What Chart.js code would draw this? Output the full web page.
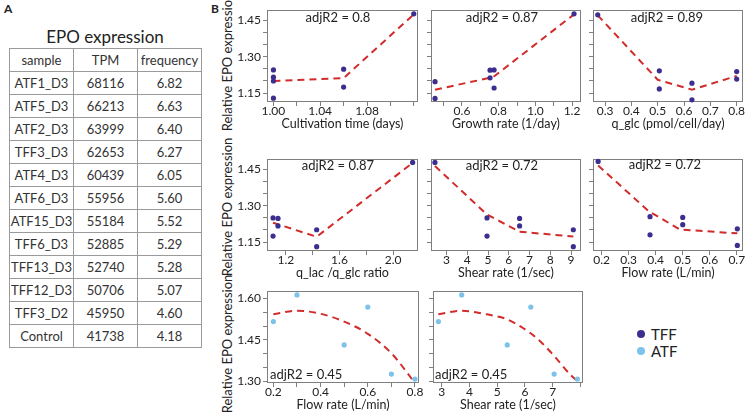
<!DOCTYPE html>
<html>
<head>
<meta charset="utf-8">
<script src="https://cdn.jsdelivr.net/npm/chart.js@4.4.1/dist/chart.umd.min.js"></script>
<style>
    html, body { margin: 0; padding: 0; background: #fff; }
    body { width: 747px; height: 413px; position: relative; overflow: hidden; font-family: Lato, "Noto Sans", sans-serif; color: #222; }
    .abs { position: absolute; white-space: nowrap; }
    .panel { font-weight: 700; font-size: 12px; line-height: 12px; }
    #epoTitle { left: 9px; width: 192px; top: 27px; text-align: center; font-size: 17px; line-height: 20px; }
    #epoTable { position: absolute; left: 9px; top: 48px; border-collapse: collapse; table-layout: fixed; width: 193px; }
    #epoTable td { width: 63px; height: 22px; border: 1px solid #9a9a9a; text-align: center; font-size: 13px; padding: 0; color: #333; }
    .ytitle { font-size: 13px; line-height: 14px; transform: translate(-50%, -50%) rotate(-90deg); }
    .note { font-size: 13px; line-height: 16px; }
    .center { transform: translate(-50%, -50%); }
    .dot { width: 8px; height: 8px; border-radius: 50%; }
    .legend { font-size: 15px; line-height: 16px; }
</style>
</head>
<body>
<div class="abs panel" style="left:4px;top:3px">A</div>
<div class="abs panel" style="left:211px;top:3px">B</div>
<div class="abs" id="epoTitle">EPO expression</div>
<table id="epoTable"></table>

<div class="abs ytitle" style="left:227px;top:62px">Relative EPO expression</div>
<div class="abs ytitle" style="left:227px;top:207px">Relative EPO expression</div>
<div class="abs ytitle" style="left:227px;top:344px">Relative EPO expression</div>

<div class="abs dot" style="left:637px;top:330px;background:#3b2e8e"></div>
<div class="abs legend" style="left:651px;top:326px">TFF</div>
<div class="abs dot" style="left:637px;top:347px;background:#7dc2ea"></div>
<div class="abs legend" style="left:651px;top:343px">ATF</div>

<script>
// --- Panel A: EPO expression table ---
const tableHeader = ['sample', 'TPM', 'frequency'];
const tableSamples = ['ATF1_D3', 'ATF5_D3', 'ATF2_D3', 'TFF3_D3', 'ATF4_D3', 'ATF6_D3', 'ATF15_D3', 'TFF6_D3', 'TFF13_D3', 'TFF12_D3', 'TFF3_D2', 'Control'];
const tableTPM = [68116, 66213, 63999, 62653, 60439, 55956, 55184, 52885, 52740, 50706, 45950, 41738];
const tableFreq = ['6.82', '6.63', '6.40', '6.27', '6.05', '5.60', '5.52', '5.29', '5.28', '5.07', '4.60', '4.18'];

// --- Panel B: TFF samples ---
const cultTime = [1.00, 1.00, 1.00, 1.00, 1.06, 1.06, 1.12];
const cultEPO = [1.246, 1.216, 1.200, 1.129, 1.249, 1.175, 1.478];
const cultFitX = [1.00, 1.06, 1.12];
const cultFitY = [1.200, 1.212, 1.476];

const growthRate = [0.453, 0.453, 0.753, 0.775, 0.753, 0.775, 1.211];
const growthEPO = [1.197, 1.128, 1.245, 1.246, 1.213, 1.171, 1.478];
const growthFitX = [0.453, 0.77, 1.211];
const growthFitY = [1.164, 1.216, 1.476];

const qGlc = [0.272, 0.506, 0.506, 0.63, 0.63, 0.80, 0.80];
const qGlcEPO = [1.474, 1.242, 1.167, 1.191, 1.122, 1.239, 1.208];
const qGlcFitX = [0.272, 0.50, 0.63, 0.80];
const qGlcFitY = [1.472, 1.205, 1.164, 1.221];

const lacGlcRatio = [1.105, 1.105, 1.142, 1.142, 1.43, 1.43, 2.145];
const lacGlcEPO = [1.250, 1.175, 1.248, 1.217, 1.201, 1.131, 1.480];
const lacGlcFitX = [1.105, 1.43, 2.145];
const lacGlcFitY = [1.230, 1.172, 1.478];

const shearTFF = [2.44, 4.95, 4.95, 6.52, 6.52, 9.11, 9.11];
const shearTFFEPO = [1.480, 1.250, 1.175, 1.248, 1.217, 1.201, 1.131];
const shearTFFFitX = [2.44, 4.95, 6.52, 9.11];
const shearTFFFitY = [1.465, 1.264, 1.193, 1.173];

const flowTFF = [0.187, 0.379, 0.379, 0.50, 0.50, 0.702, 0.702];
const flowTFFEPO = [1.484, 1.255, 1.180, 1.252, 1.222, 1.205, 1.136];
const flowTFFFitX = [0.187, 0.375, 0.49, 0.702];
const flowTFFFitY = [1.467, 1.277, 1.202, 1.186];

// --- Panel B: ATF samples ---
const flowATF = [0.2, 0.3, 0.5, 0.6, 0.7, 0.8];
const shearATF = [2.88, 3.72, 5.36, 6.21, 7.05, 7.89];
const epoATF = [1.516, 1.612, 1.432, 1.568, 1.327, 1.309];
const flowATFFitX = [0.2, 0.3, 0.4, 0.5, 0.6, 0.7, 0.8];
const flowATFFitY = [1.542, 1.555, 1.544, 1.516, 1.472, 1.402, 1.295];
const shearATFFitX = [2.88, 3.72, 4.62, 5.34, 5.94, 6.43, 7.02, 7.63, 7.89];
const shearATFFitY = [1.542, 1.555, 1.542, 1.525, 1.492, 1.456, 1.396, 1.325, 1.302];

// tick labels
const yLabelsTop = ['1.15', '1.30', '1.45'];
const yLabelsATF = ['1.30', '1.45', '1.60'];
const cultTicks = ['1.00', '1.04', '1.08'];
const growthTicks = ['0.6', '0.8', '1.0', '1.2'];
const qGlcTicks = ['0.3', '0.4', '0.5', '0.6', '0.7', '0.8'];
const ratioTicks = ['1.2', '1.6', '2.0'];
const shearTFFTicks = ['3', '4', '5', '6', '7', '8', '9'];
const flowTFFTicks = ['0.2', '0.3', '0.4', '0.5', '0.6', '0.7'];
const flowATFTicks = ['0.2', '0.4', '0.6', '0.8'];
const shearATFTicks = ['3', '4', '5', '6', '7'];

const TFF_COLOR = '#3b2e8e';
const ATF_COLOR = '#7dc2ea';
const FIT_COLOR = '#d22b2b';
const FRAME_COLOR = '#7f7f7f';
const FONT = 'Lato, "Noto Sans", sans-serif';

// build table
const tbl = document.getElementById('epoTable');
const headRow = tbl.insertRow();
tableHeader.forEach(h => { headRow.insertCell().textContent = h; });
tableSamples.forEach((s, i) => {
    const tr = tbl.insertRow();
    tr.insertCell().textContent = s;
    tr.insertCell().textContent = tableTPM[i];
    tr.insertCell().textContent = tableFreq[i];
});

// draws the grey box around every plot area
const frameBox = {
    id: 'frameBox',
    beforeDatasetsDraw(chart) {
        const { ctx, chartArea: a } = chart;
        ctx.save();
        ctx.strokeStyle = FRAME_COLOR;
        ctx.lineWidth = 1;
        ctx.strokeRect(Math.round(a.left) + 0.5, Math.round(a.top) + 0.5, Math.round(a.right - a.left) - 1, Math.round(a.bottom - a.top) - 1);
        ctx.restore();
    }
};

const plots = [
    { box: [267, 10, 418, 102], xs: cultTime, ys: cultEPO, fx: cultFitX, fy: cultFitY, color: TFF_COLOR,
      xMin: 0.9945, xMax: 1.1236, xStep: 0.02, xDec: 2, xLabels: cultTicks, xTitle: 'Cultivation time (days)',
      yMin: 1.113, yMax: 1.494, yLabels: yLabelsTop, note: 'adjR2 = 0.8', noteX: 338, noteY: 17 },
    { box: [431, 10, 581, 102], xs: growthRate, ys: growthEPO, fx: growthFitX, fy: growthFitY, color: TFF_COLOR,
      xMin: 0.431, xMax: 1.249, xStep: 0.1, xDec: 1, xLabels: growthTicks, xTitle: 'Growth rate (1/day)',
      yMin: 1.113, yMax: 1.494, yLabels: [], note: 'adjR2 = 0.87', noteX: 502, noteY: 17 },
    { box: [593, 10, 743, 102], xs: qGlc, ys: qGlcEPO, fx: qGlcFitX, fy: qGlcFitY, color: TFF_COLOR,
      xMin: 0.254, xMax: 0.824, xStep: 0.1, xDec: 1, xLabels: qGlcTicks, xTitle: 'q_glc (pmol/cell/day)',
      yMin: 1.113, yMax: 1.494, yLabels: [], note: 'adjR2 = 0.89', noteX: 667, noteY: 17 },
    { box: [267, 159, 418, 251], xs: lacGlcRatio, ys: lacGlcEPO, fx: lacGlcFitX, fy: lacGlcFitY, color: TFF_COLOR,
      xMin: 1.06, xMax: 2.185, xStep: 0.2, xDec: 1, xLabels: ratioTicks, xTitle: 'q_lac /q_glc ratio',
      yMin: 1.113, yMax: 1.494, yLabels: yLabelsTop, note: 'adjR2 = 0.87', noteX: 338, noteY: 165 },
    { box: [431, 159, 581, 251], xs: shearTFF, ys: shearTFFEPO, fx: shearTFFFitX, fy: shearTFFFitY, color: TFF_COLOR,
      xMin: 2.25, xMax: 9.48, xStep: 1, xDec: 0, xLabels: shearTFFTicks, xTitle: 'Shear rate (1/sec)',
      yMin: 1.113, yMax: 1.494, yLabels: [], note: 'adjR2 = 0.72', noteX: 502, noteY: 165 },
    { box: [593, 159, 743, 251], xs: flowTFF, ys: flowTFFEPO, fx: flowTFFFitX, fy: flowTFFFitY, color: TFF_COLOR,
      xMin: 0.168, xMax: 0.723, xStep: 0.1, xDec: 1, xLabels: flowTFFTicks, xTitle: 'Flow rate (L/min)',
      yMin: 1.113, yMax: 1.494, yLabels: [], note: 'adjR2 = 0.72', noteX: 665, noteY: 164 },
    { box: [267, 291, 419, 383], xs: flowATF, ys: epoATF, fx: flowATFFitX, fy: flowATFFitY, color: ATF_COLOR, smooth: true,
      xMin: 0.173, xMax: 0.817, xStep: 0.1, xDec: 1, xLabels: flowATFTicks, xTitle: 'Flow rate (L/min)',
      yMin: 1.295, yMax: 1.626, yLabels: yLabelsATF, note: 'adjR2 = 0.45', noteLeft: 270, noteY: 374 },
    { box: [433, 291, 583, 383], xs: shearATF, ys: epoATF, fx: shearATFFitX, fy: shearATFFitY, color: ATF_COLOR, smooth: true,
      xMin: 2.686, xMax: 8.09, xStep: 1, xDec: 0, xLabels: shearATFTicks, xTitle: 'Shear rate (1/sec)',
      yMin: 1.295, yMax: 1.626, yLabels: [], note: 'adjR2 = 0.45', noteLeft: 435, noteY: 374 }
];

function makePlot(p) {
    const padL = p.yLabels.length ? 50 : 14;
    const padR = 14, padT = 14, padB = 29;
    const w = p.box[2] - p.box[0] + padL + padR;
    const h = p.box[3] - p.box[1] + padT + padB;

    const canvas = document.createElement('canvas');
    canvas.width = w;
    canvas.height = h;
    canvas.style.cssText = `position:absolute;left:${p.box[0] - padL}px;top:${p.box[1] - padT}px;width:${w}px;height:${h}px`;
    document.body.appendChild(canvas);

    const tickFont = { family: FONT, size: 12 };

    new Chart(canvas, {
        type: 'scatter',
        data: {
            datasets: [
                {
                    data: p.xs.map((x, i) => ({ x: x, y: p.ys[i] })),
                    backgroundColor: p.color,
                    pointBackgroundColor: p.color,
                    pointBorderWidth: 0,
                    pointRadius: 2.6,
                    clip: false,
                    order: 0
                },
                {
                    type: 'line',
                    data: p.fx.map((x, i) => ({ x: x, y: p.fy[i] })),
                    borderColor: FIT_COLOR,
                    borderWidth: 2,
                    borderDash: [7, 5],
                    pointRadius: 0,
                    fill: false,
                    tension: p.smooth ? 0.4 : 0,
                    cubicInterpolationMode: p.smooth ? 'monotone' : 'default',
                    order: 1
                }
            ]
        },
        options: {
            responsive: false,
            animation: false,
            devicePixelRatio: 1,
            layout: { padding: { left: 0, right: padR, top: padT, bottom: 0 } },
            plugins: { legend: { display: false }, tooltip: { enabled: false } },
            scales: {
                x: {
                    type: 'linear',
                    min: p.xMin,
                    max: p.xMax,
                    afterFit: (s) => { s.height = padB; },
                    border: { display: false },
                    grid: { drawOnChartArea: false, drawTicks: true, tickLength: 4, tickColor: FRAME_COLOR },
                    ticks: {
                        stepSize: p.xStep,
                        includeBounds: false,
                        autoSkip: false,
                        maxRotation: 0,
                        padding: -2,
                        color: '#222',
                        font: tickFont,
                        callback: (v) => {
                            const t = v.toFixed(p.xDec);
                            return p.xLabels.includes(t) ? t : '';
                        }
                    },
                    title: { display: true, text: p.xTitle, color: '#222', font: { family: FONT, size: 12.5 }, padding: { top: 0, bottom: 0 } }
                },
                y: {
                    type: 'linear',
                    min: p.yMin,
                    max: p.yMax,
                    afterFit: (s) => { s.width = padL; },
                    border: { display: false },
                    grid: { drawOnChartArea: false, drawTicks: true, tickLength: 4, tickColor: FRAME_COLOR },
                    ticks: {
                        stepSize: 0.05,
                        includeBounds: false,
                        autoSkip: false,
                        padding: 2,
                        color: '#222',
                        font: tickFont,
                        callback: (v) => {
                            const t = v.toFixed(2);
                            return p.yLabels.includes(t) ? t : '';
                        }
                    }
                }
            }
        },
        plugins: [frameBox]
    });

    // adjR2 note
    const note = document.createElement('div');
    note.className = 'abs note';
    note.textContent = p.note;
    if (p.noteLeft !== undefined) {
        note.style.left = p.noteLeft + 'px';
        note.style.top = (p.noteY - 8) + 'px';
    } else {
        note.classList.add('center');
        note.style.left = p.noteX + 'px';
        note.style.top = p.noteY + 'px';
    }
    document.body.appendChild(note);
}

plots.forEach(makePlot);
</script>
</body>
</html>
